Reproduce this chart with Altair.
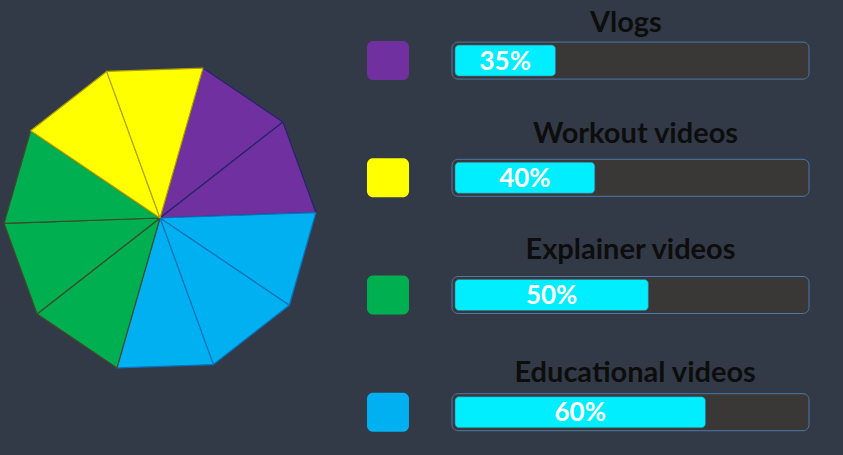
import math
import altair as alt
import pandas as pd

# ---------------- data ----------------
categories = ["Vlogs", "Workout videos", "Explainer videos", "Educational videos"]
percent_values = [35, 40, 50, 60]            # numbers printed on the bars
bar_fill = [29, 40, 55, 71]                  # drawn bar length, % of track
pie_slices = [2, 2, 3, 3]                    # decagon wedges per category
pie_order = ["Vlogs", "Educational videos", "Explainer videos", "Workout videos"]  # clockwise from top

# ---------------- styles / layout ----------------
BG = "#333A47"
fill_colors = ["#7030A0", "#FFFF00", "#00B050", "#00B0F0"]
edge_colors = ["#24246A", "#B4A000", "#3E4A2C", "#0A72BC"]
TRACK_FILL = "#3A3836"
TRACK_EDGE = "#4B79AC"
BAR_COLOR = "#00EEFF"
FONT = "Lato"

LEFT_W, RIGHT_W, H = 330, 513, 455
PIE_CX, PIE_CY, PIE_R, PIE_START = 160, 218, 156, 16.0

PX_PER_UNIT_X = 3.57          # px per % of track
TRACK_X0_PX = 122             # track start inside right panel
ROW_STEP_PX = 117.2
ROW0_PX = 60.6
TITLE_CENTER = [48.7, 51.4, 50.0, 51.3]   # title centre, in % of track
TITLE_BASE_DY_PX = [29, 35, 36.5, 30]     # title baseline above row centre

# ---------------- pie (decagon) data ----------------
n_total = sum(pie_slices)
slice_of = dict(zip(categories, pie_slices))
rows = []
k = 0
for cat in pie_order:
    for _ in range(slice_of[cat]):
        a0 = math.radians(PIE_START + 360.0 / n_total * k)
        a1 = math.radians(PIE_START + 360.0 / n_total * (k + 1))
        pts = [
            (PIE_CX, PIE_CY),
            (PIE_CX + PIE_R * math.sin(a0), PIE_CY - PIE_R * math.cos(a0)),
            (PIE_CX + PIE_R * math.sin(a1), PIE_CY - PIE_R * math.cos(a1)),
            (PIE_CX, PIE_CY),
        ]
        for v, (px, py) in enumerate(pts):
            rows.append({"category": cat, "wedge": k, "vertex": v, "px": px, "py": py})
        k += 1
pie_df = pd.DataFrame(rows)

pie = alt.Chart(pie_df).mark_line(filled=True, strokeWidth=1.2, strokeJoin="round").encode(
    x=alt.X("px:Q", scale=alt.Scale(domain=[0, LEFT_W], nice=False, zero=False), axis=None),
    y=alt.Y("py:Q", scale=alt.Scale(domain=[0, H], reverse=True, nice=False, zero=False), axis=None),
    fill=alt.Fill("category:N", scale=alt.Scale(domain=categories, range=fill_colors), legend=None),
    stroke=alt.Stroke("category:N", scale=alt.Scale(domain=categories, range=edge_colors), legend=None),
    detail="wedge:N",
    order="vertex:Q",
).properties(width=LEFT_W, height=H)

# ---------------- right panel data ----------------
uy = 1.0 / ROW_STEP_PX
ux = 1.0 / PX_PER_UNIT_X
bars = pd.DataFrame({
    "category": categories,
    "idx": list(range(len(categories))),
    "pct": percent_values,
    "fill": bar_fill,
})
bars["label"] = bars["pct"].astype(str) + "%"
bars["track_y0"] = bars["idx"] - 18.5 * uy
bars["track_y1"] = bars["idx"] + 18.5 * uy
bars["bar_y0"] = bars["idx"] - 15.5 * uy
bars["bar_y1"] = bars["idx"] + 15.5 * uy
bars["sq_y0"] = bars["idx"] - 19.5 * uy
bars["sq_y1"] = bars["idx"] + 19.5 * uy
bars["sq_x0"] = -64 * ux - 21 * ux
bars["sq_x1"] = -64 * ux + 21 * ux
bars["t0"] = 0
bars["t1"] = 100
bars["b0"] = 3 * ux
bars["bmid"] = (bars["b0"] + bars["fill"]) / 2
bars["title_x"] = TITLE_CENTER
bars["title_y"] = bars["idx"] - pd.Series(TITLE_BASE_DY_PX) * uy

xs = alt.Scale(domain=[-TRACK_X0_PX * ux, (RIGHT_W - TRACK_X0_PX) * ux], nice=False, zero=False)
ys = alt.Scale(domain=[-ROW0_PX * uy, (H - ROW0_PX) * uy], reverse=True, nice=False, zero=False)

base = alt.Chart(bars)

track = base.mark_rect(fill=TRACK_FILL, stroke=TRACK_EDGE, strokeWidth=1, cornerRadius=6).encode(
    x=alt.X("t0:Q", scale=xs, axis=None), x2="t1:Q",
    y=alt.Y("track_y0:Q", scale=ys, axis=None), y2="track_y1:Q",
)
fillbar = base.mark_rect(fill=BAR_COLOR, cornerRadius=4, stroke="#3A6E8C", strokeWidth=0.6).encode(
    x=alt.X("b0:Q", scale=xs, axis=None), x2="fill:Q",
    y=alt.Y("bar_y0:Q", scale=ys, axis=None), y2="bar_y1:Q",
)
squares = base.mark_rect(cornerRadius=6).encode(
    x=alt.X("sq_x0:Q", scale=xs, axis=None), x2="sq_x1:Q",
    y=alt.Y("sq_y0:Q", scale=ys, axis=None), y2="sq_y1:Q",
    fill=alt.Fill("category:N", scale=alt.Scale(domain=categories, range=fill_colors), legend=None),
)
pct_text = base.mark_text(font=FONT, fontWeight="bold", fontSize=26, color="#FFFFFF",
                          align="center", baseline="middle", dy=1).encode(
    x=alt.X("bmid:Q", scale=xs, axis=None),
    y=alt.Y("idx:Q", scale=ys, axis=None),
    text="label:N",
)
titles = base.mark_text(font=FONT, fontWeight="bold", fontSize=29, color="#0D0D0D",
                        align="center", baseline="alphabetic").encode(
    x=alt.X("title_x:Q", scale=xs, axis=None),
    y=alt.Y("title_y:Q", scale=ys, axis=None),
    text="category:N",
)

right = alt.layer(track, fillbar, squares, pct_text, titles).properties(width=RIGHT_W, height=H)

chart = alt.hconcat(pie, right, spacing=0).resolve_scale(fill="independent").properties(
    background=BG, padding=0
).configure_view(stroke=None)

chart.save("out.html", embed_options={"renderer": "svg", "actions": False})
